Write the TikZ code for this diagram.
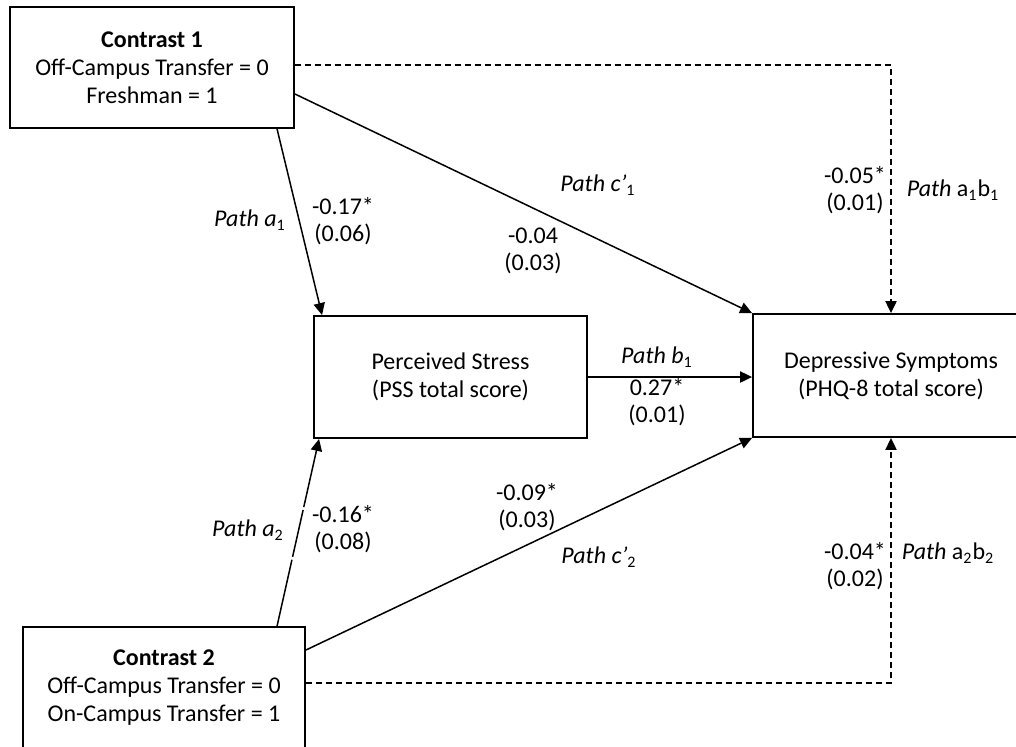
\documentclass[tikz,border=0pt]{standalone}
\usepackage{fontspec}
\setmainfont{Carlito}
\usetikzlibrary{calc,arrows.meta}

\begin{document}
\begin{tikzpicture}[x=0.5pt,y=-0.5pt,
  every node/.style={font=\fontsize{12}{14}\selectfont},
  box/.style={draw,line width=0.95pt,align=center,inner sep=0pt},
  lbl/.style={align=center,inner sep=0pt,font=\fontsize{12}{13.5}\selectfont},
  conn/.style={line width=0.75pt,-{Triangle[length=6pt,width=5.6pt]}},
  dconn/.style={conn,dash pattern=on 3pt off 2pt},
  aconn/.style={conn,dash pattern=on 34pt off 1.5pt on 24pt off 1.5pt on 100pt}]

\useasboundingbox (0,0) rectangle (1016,746);
\clip (0,0) rectangle (1016,746);

% boxes
\node[box,minimum width=142pt,minimum height=60.5pt] (c1) at (152,67.5)
  {\textbf{Contrast 1}\\Off-Campus Transfer = 0\\Freshman = 1};
\node[box,minimum width=136.5pt,minimum height=61pt] (ps) at (450.5,377)
  {Perceived Stress\\(PSS total score)};
\node[box,minimum width=138pt,minimum height=61.5pt] (ds) at (891,375.5)
  {Depressive Symptoms\\(PHQ-8 total score)};
\node[box,minimum width=141pt,minimum height=61pt] (c2) at (164,688)
  {\textbf{Contrast 2}\\Off-Campus Transfer = 0\\On-Campus Transfer = 1};

% direct and indirect paths
\draw[conn] ($(c1.south west)+(268,0)$) -- ($(ps.north west)+(9,0)$);
\draw[conn] ($(c1.east)+(0,26.5)$) -- (ds.north west);
\draw[dconn] ($(c1.east)+(0,-2.5)$) -| (ds.north);
\draw[conn] (ps.east) -- (ps.east -| ds.west);
\draw[aconn] ($(c2.north west)+(255,0)$) -- ($(ps.south west)+(6,0)$);
\draw[conn] ($(c2.east)+(0,-38)$) -- (ds.south west);
\draw[dconn] ($(c2.east)+(0,-5)$) -| (ds.south);

% coefficient labels
\node[lbl] (pa1) at (250,220) {\textit{Path a}\textsubscript{1}};
\node[lbl] (va1) at (343,221) {-0.17*\\(0.06)};
\node[lbl] (vc1) at (533,251) {-0.04\\(0.03)};
\node[lbl] (pc1) at (598,185) {\textit{Path c’}\textsubscript{1}};
\node[lbl] (vab1) at (855,190) {-0.05*\\(0.01)};
\node[lbl] (pab1) at (953,190) {\textit{Path} a\textsubscript{1}b\textsubscript{1}};
\node[lbl] (pb1) at (657,357) {\textit{Path b}\textsubscript{1}};
\node[lbl] (vb1) at (657,402.5) {0.27*\\(0.01)};
\node[lbl] (pa2) at (248,530) {\textit{Path a}\textsubscript{2}};
\node[lbl] (va2) at (343,529.5) {-0.16*\\(0.08)};
\node[lbl] (vc2) at (527,507.5) {-0.09*\\(0.03)};
\node[lbl] (pc2) at (599,557) {\textit{Path c’}\textsubscript{2}};
\node[lbl] (vab2) at (855,566) {-0.04*\\(0.02)};
\node[lbl] (pab2) at (948,553) {\textit{Path} a\textsubscript{2}b\textsubscript{2}};
\end{tikzpicture}
\end{document}
